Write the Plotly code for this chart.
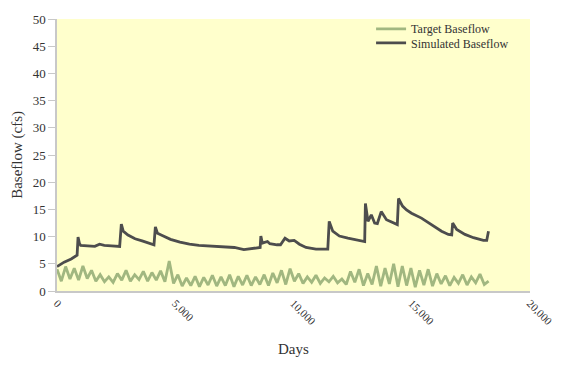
import plotly.graph_objects as go

# ---- Data ----
sim_days = [0, 300, 600, 850, 890, 950, 1000, 1300, 1600, 1800, 2000, 2300, 2650,
            2720, 2800, 3000, 3300, 3600, 3900, 4100,
            4160, 4250, 4450, 4800, 5200, 5600, 6000, 6500, 7000, 7500, 7900, 8100, 8300, 8590,
            8620, 8680, 8900, 9000, 9300, 9450,
            9640, 9820, 10030, 10250, 10530, 10950, 11450,
            11510, 11660, 11940, 12300, 12730, 13010,
            13040, 13150, 13290, 13430, 13545, 13710, 13930, 14280, 14390,
            14440, 14610, 14780, 14990, 15410, 15840, 16260, 16550, 16690,
            16730, 16900, 17250, 17610, 18030, 18170, 18245]
sim_values = [4.5, 5.3, 5.9, 6.6, 9.9, 8.7, 8.4, 8.3, 8.2, 8.6, 8.4, 8.3, 8.2,
              12.3, 11.0, 10.3, 9.6, 9.2, 8.8, 8.5,
              11.8, 10.6, 10.2, 9.5, 9.0, 8.6, 8.4, 8.3, 8.1, 8.0, 7.6, 7.7, 7.9, 8.0,
              10.1, 8.8, 9.1, 8.7, 8.5, 8.5,
              9.7, 9.2, 9.3, 8.6, 8.0, 7.7, 7.7,
              12.8, 11.0, 10.1, 9.7, 9.3, 9.1,
              16.1, 12.8, 14.0, 12.5, 12.4, 14.6, 13.1, 12.5, 12.2,
              17.0, 15.6, 14.9, 14.3, 13.4, 12.2, 11.0, 10.4, 10.3,
              12.5, 11.3, 10.4, 9.8, 9.3, 9.3, 11.0]

target_days = [0, 183, 365, 548, 730, 913, 1095, 1278, 1460, 1643, 1825, 2008, 2190, 2373,
               2555, 2738, 2920, 3103, 3285, 3468, 3650, 3833, 4015, 4198, 4380, 4563,
               4745, 4928, 5110, 5293, 5475, 5658, 5840, 6023, 6205, 6388, 6570, 6753,
               6935, 7118, 7300, 7483, 7665, 7848, 8030, 8213, 8395, 8578, 8760, 8943,
               9125, 9308, 9490, 9673, 9855, 10038, 10220, 10403, 10585, 10768, 10950,
               11133, 11315, 11498, 11680, 11863, 12045, 12228, 12410, 12593, 12775,
               12958, 13140, 13323, 13505, 13688, 13870, 14053, 14235, 14418, 14600,
               14783, 14965, 15148, 15330, 15513, 15695, 15878, 16060, 16243, 16425,
               16608, 16790, 16973, 17155, 17338, 17520, 17703, 17885, 18068, 18250]
target_values = [4.0, 1.8, 4.5, 2.2, 4.2, 2.0, 4.6, 2.3, 3.8, 1.8, 3.0, 1.7, 2.6, 1.6,
                 3.2, 2.0, 3.8, 1.8, 3.0, 2.1, 3.6, 1.8, 3.4, 2.0, 3.7, 1.7, 5.5, 1.4,
                 3.0, 0.9, 2.4, 1.0, 2.7, 0.8, 2.5, 1.1, 2.9, 0.9, 2.6, 1.0, 3.0, 0.8,
                 2.7, 1.1, 2.9, 1.0, 2.6, 1.2, 3.0, 1.0, 3.3, 1.5, 3.8, 1.2, 4.1, 1.8,
                 3.2, 1.4, 2.6, 1.6, 2.9, 1.4, 2.4, 1.7, 2.7, 1.5, 2.2, 1.2, 3.6, 1.6,
                 4.0, 1.0, 3.2, 1.2, 4.6, 0.9, 4.2, 1.3, 5.0, 0.8, 4.6, 1.0, 4.2, 0.7,
                 3.8, 1.1, 4.0, 0.9, 3.2, 1.3, 2.8, 1.0, 2.5, 1.4, 3.0, 1.1, 2.6, 1.5,
                 3.1, 1.2, 1.8]

x_ticks = [0, 5000, 10000, 15000, 20000]
x_tick_labels = ["0", "5,000", "10,000", "15,000", "20,000"]

SERIF = "Liberation Serif, Times New Roman, serif"
TXT = "#333333"

fig = go.Figure()
fig.add_trace(go.Scatter(x=target_days, y=target_values, mode="lines",
                         name="Target Baseflow", legend="legend",
                         line=dict(color="#a1b780", width=2.8)))
fig.add_trace(go.Scatter(x=sim_days, y=sim_values, mode="lines",
                         name="Simulated Baseflow", legend="legend2",
                         line=dict(color="#4d4d4d", width=2.8)))

leg_common = dict(xanchor="left", yanchor="middle", bgcolor="rgba(0,0,0,0)",
                  font=dict(family=SERIF, size=12, color=TXT))

fig.update_layout(
    width=563, height=365,
    margin=dict(l=49, r=41, t=6, b=82),
    paper_bgcolor="white",
    plot_bgcolor="#ffffcc",
    font=dict(family=SERIF, color=TXT, size=12),
    showlegend=True,
    legend=dict(x=0.664, y=0.964, **leg_common),
    legend2=dict(x=0.664, y=0.912, **leg_common),
    xaxis=dict(range=[0, 20000], tickvals=x_ticks, ticktext=x_tick_labels,
               tickangle=45, showgrid=False, zeroline=False, automargin=False,
               showline=True, linecolor="#c8c8c8", linewidth=1.5,
               ticks="", tickfont=dict(family=SERIF, size=11, color=TXT)),
    yaxis=dict(range=[0, 50], dtick=5, showgrid=False, zeroline=False, automargin=False,
               showline=True, linecolor="#c8c8c8", linewidth=1.5,
               ticks="outside", ticklen=7, tickcolor="#c8c8c8",
               tickfont=dict(family=SERIF, size=13, color=TXT)),
    annotations=[
        dict(text="Days", xref="paper", yref="paper", x=0.5, y=-0.213,
             xanchor="center", yanchor="middle", showarrow=False,
             font=dict(family=SERIF, size=15, color=TXT)),
        dict(text="Baseflow (cfs)", xref="paper", yref="paper", x=-0.085, y=0.5,
             xanchor="center", yanchor="middle", textangle=-90, showarrow=False,
             font=dict(family=SERIF, size=15, color=TXT)),
    ],
)

fig.write_html("out.html")
